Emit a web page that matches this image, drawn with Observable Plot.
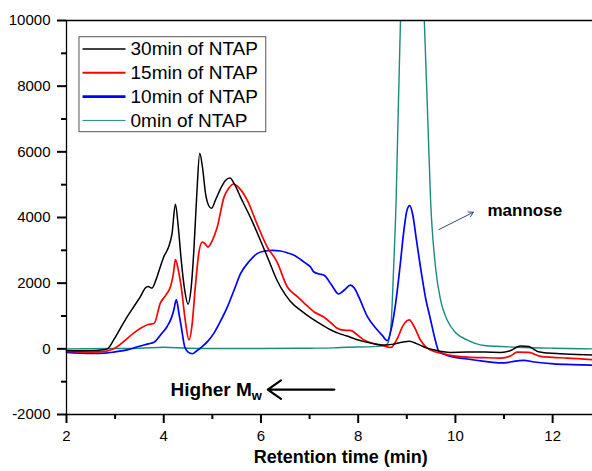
<!DOCTYPE html>
<html>
<head>
<meta charset="utf-8">
<script src="https://cdn.jsdelivr.net/npm/d3@7"></script>
<script src="https://cdn.jsdelivr.net/npm/@observablehq/plot@0.6"></script>
<style>
  html, body { margin: 0; padding: 0; background: #fff; }
  #chart svg { display: block; }
</style>
</head>
<body>
<div id="chart"></div>
<script>
// ---- data (retention time in min, detector response) ----
const seriesNames = ["30min of NTAP", "15min of NTAP", "10min of NTAP", "0min of NTAP"];
const seriesColors = ["#000000", "#ff0000", "#0000ff", "#1b8a80"];

const s30 = [[2.0,-50],[2.5,-60],[2.75,-30],[2.84,0],[2.97,270],[3.1,600],[3.25,980],[3.4,1320],[3.52,1590],[3.62,1850],[3.68,1900],[3.76,1850],[3.84,2100],[3.93,2500],[4.0,2800],[4.1,3100],[4.17,3500],[4.24,4400],[4.3,3700],[4.36,2700],[4.43,1800],[4.5,1360],[4.56,1800],[4.62,3000],[4.68,4700],[4.74,5960],[4.8,5500],[4.86,4730],[4.93,4350],[4.98,4280],[5.07,4550],[5.17,4880],[5.27,5130],[5.36,5200],[5.46,5000],[5.58,4620],[5.8,3950],[5.99,3300],[6.16,2700],[6.33,2090],[6.5,1650],[6.68,1330],[6.81,1180],[7.02,950],[7.2,780],[7.43,580],[7.6,470],[7.77,390],[7.95,290],[8.12,220],[8.3,160],[8.46,120],[8.6,120],[8.75,150],[8.9,200],[9.05,230],[9.2,160],[9.4,30],[9.56,-30],[9.75,-90],[9.9,-110],[10.24,-100],[10.6,-100],[10.93,-110],[11.14,-50],[11.25,40],[11.34,90],[11.51,70],[11.6,0],[11.69,-80],[11.9,-130],[12.16,-150],[12.5,-170],[12.82,-190]];

const s15 = [[2.0,-80],[2.5,-100],[2.8,-80],[2.97,0],[3.2,250],[3.38,480],[3.55,650],[3.68,740],[3.8,770],[3.93,1390],[4.05,1650],[4.14,1900],[4.2,2300],[4.24,2720],[4.3,2400],[4.36,1890],[4.44,900],[4.52,270],[4.58,700],[4.65,1890],[4.72,2900],[4.79,3250],[4.85,3200],[4.91,3100],[5.0,3300],[5.1,3700],[5.24,4620],[5.34,4900],[5.44,5020],[5.55,4900],[5.72,4520],[5.92,3800],[6.13,3100],[6.33,2650],[6.54,1890],[6.75,1590],[6.9,1380],[7.09,1130],[7.3,960],[7.45,780],[7.57,630],[7.7,570],[7.84,560],[7.98,430],[8.12,270],[8.3,170],[8.46,120],[8.67,40],[8.8,300],[8.92,700],[9.05,880],[9.16,650],[9.28,270],[9.42,20],[9.56,-80],[9.7,-130],[9.9,-200],[10.24,-250],[10.6,-270],[10.93,-280],[11.14,-210],[11.27,-100],[11.51,-110],[11.75,-230],[12.0,-260],[12.3,-280],[12.82,-330]];

const s10 = [[2.0,-110],[2.5,-140],[2.8,-130],[3.0,-90],[3.25,-30],[3.5,80],[3.68,150],[3.8,200],[3.95,450],[4.07,680],[4.16,950],[4.21,1200],[4.26,1500],[4.31,1100],[4.36,680],[4.43,70],[4.5,-100],[4.59,-150],[4.68,-60],[4.79,70],[4.9,220],[5.03,470],[5.17,850],[5.31,1280],[5.45,1800],[5.58,2290],[5.75,2650],[5.92,2900],[6.08,2980],[6.23,3000],[6.4,2980],[6.55,2920],[6.68,2850],[6.88,2650],[7.02,2490],[7.09,2340],[7.2,2280],[7.3,2240],[7.45,1950],[7.6,1670],[7.72,1800],[7.84,1940],[7.92,1850],[8.01,1590],[8.19,980],[8.39,580],[8.5,400],[8.6,250],[8.68,600],[8.77,1380],[8.86,2500],[8.94,3600],[9.0,4200],[9.06,4360],[9.12,4100],[9.2,3300],[9.28,2500],[9.38,1600],[9.49,880],[9.58,300],[9.66,-80],[9.78,-170],[9.9,-230],[10.24,-310],[10.6,-380],[10.93,-430],[11.1,-410],[11.2,-380],[11.41,-350],[11.62,-400],[12.03,-460],[12.4,-480],[12.82,-500]];

const s0 = [[2.0,0],[3.0,10],[3.5,20],[4.0,50],[4.5,20],[5.0,10],[6.0,10],[7.0,20],[7.5,30],[7.77,50],[8.2,60],[8.53,90],[8.6,150],[8.67,600],[8.73,2500],[8.78,4500],[8.82,7000],[8.87,10000],[9.1,20000],[9.36,10000],[9.42,7500],[9.49,4500],[9.59,2500],[9.7,1450],[9.83,880],[10.0,500],[10.24,270],[10.59,100],[11.27,50],[12.0,20],[12.82,0]];

const xMajorTicks = [2, 4, 6, 8, 10, 12];
const xMinorTicks = [3, 5, 7, 9, 11];
const yMajorTicks = [-2000, 0, 2000, 4000, 6000, 8000, 10000];
const yMinorTicks = [-1000, 1000, 3000, 5000, 7000, 9000];

// ---- layout ----
const W = 592, H = 471, mL = 66, mR = 0, mT = 20, mB = 57;
const xDomain = [2, 12.82], yDomain = [-2000, 10000];

// ---- build table ----
const allSeries = [s30, s15, s10, s0];
const rows = allSeries.flatMap((s, i) => s.map(([t, v]) => ({t, v, series: seriesNames[i]})));
const drawOrder = [3, 2, 1, 0];
const widths = [1.5, 1.7, 1.7, 1.4];

// legend (placed inside the plot, in data coordinates)
const legendBox = {x1: 2.267, x2: 6.109, y1: 6598, y2: 9491};
const legendRows = seriesNames.map((name, i) => ({
  name, color: seriesColors[i], lw: [1.6, 2, 2.6, 1][i],
  y: 9132 - i * 725, x1: 2.33, x2: 3.214, xt: 3.317
}));

const annotations = {
  mannose: {x: 10.66, y: 4213, text: "mannose"},
  mannoseArrow: {x1: 9.66, y1: 3632, x2: 10.37, y2: 4160},
  higher: {x: 4.14, y: -1240, text: "Higher M"},
  sub: {x: 5.81, y: -1440, text: "w"},
  higherArrow: {x1: 7.51, y1: -1240, x2: 6.14, y2: -1240},
  xlabel: {x: 7.64, text: "Retention time (min)"}
};

const font = "'Liberation Sans', Arial, Helvetica, sans-serif";

const marks = [];
for (const i of drawOrder) {
  // only the 0 min trace leaves the y range, so only it needs clipping
  marks.push(Plot.line(rows.filter(d => d.series === seriesNames[i]), {
    x: "t", y: "v", stroke: seriesColors[i], strokeWidth: widths[i],
    curve: "monotone-x", clip: i === 3
  }));
}

const tickMajor = 9, tickMinor = 5;
marks.push(
  // axes with outward ticks and labels
  Plot.axisX({ticks: xMajorTicks, tickSize: tickMajor, tickPadding: 7, fontSize: 15, anchor: "bottom", label: null, stroke: "black", strokeWidth: 2}),
  Plot.axisX({ticks: xMinorTicks, tickSize: tickMinor, tickFormat: () => "", anchor: "bottom", label: null, stroke: "black", strokeWidth: 2}),
  Plot.axisY({ticks: yMajorTicks, tickSize: tickMajor, tickPadding: 7, fontSize: 15, anchor: "left", label: null, tickFormat: d => String(d), stroke: "black", strokeWidth: 2}),
  Plot.axisY({ticks: yMinorTicks, tickSize: tickMinor, tickFormat: () => "", anchor: "left", label: null, stroke: "black", strokeWidth: 2}),
  // x label
  Plot.text([annotations.xlabel], {x: "x", frameAnchor: "bottom", dy: 48, text: "text", fontSize: 18, fontWeight: "bold", fill: "black"}),
  // legend
  Plot.rect([legendBox], {x1: "x1", x2: "x2", y1: "y1", y2: "y2", fill: "white", stroke: "#555", strokeWidth: 1}),
  Plot.link(legendRows, {x1: "x1", x2: "x2", y1: "y", y2: "y", stroke: "color", strokeWidth: "lw"}),
  Plot.text(legendRows, {x: "xt", y: "y", text: "name", textAnchor: "start", fontSize: 19, fill: "black"}),
  // annotations
  Plot.text([annotations.mannose], {x: "x", y: "y", text: "text", textAnchor: "start", fontSize: 17, fontWeight: "bold", fill: "black"}),
  Plot.arrow([annotations.mannoseArrow], {x1: "x1", y1: "y1", x2: "x2", y2: "y2", stroke: "#34487e", strokeWidth: 1, headLength: 8}),
  Plot.text([annotations.higher], {x: "x", y: "y", text: "text", textAnchor: "start", fontSize: 19, fontWeight: "bold", fill: "black"}),
  Plot.text([annotations.sub], {x: "x", y: "y", text: "text", textAnchor: "start", fontSize: 13, fontWeight: "bold", fill: "black"}),
  Plot.arrow([annotations.higherArrow], {x1: "x1", y1: "y1", x2: "x2", y2: "y2", stroke: "black", strokeWidth: 2.2, headLength: 11, headAngle: 70}),
  // frame lines
  Plot.ruleY([yDomain[1]], {stroke: "black", strokeWidth: 1.3}),
  Plot.ruleY([yDomain[0]], {stroke: "black", strokeWidth: 1.3}),
  Plot.ruleX([xDomain[0]], {stroke: "black", strokeWidth: 1.3})
);

const chart = Plot.plot({
  width: W,
  height: H,
  marginLeft: mL,
  marginRight: mR,
  marginTop: mT,
  marginBottom: mB,
  style: {fontFamily: font},
  x: {domain: xDomain, axis: null},
  y: {domain: yDomain, axis: null},
  marks
});
document.getElementById("chart").appendChild(chart);
</script>
</body>
</html>
